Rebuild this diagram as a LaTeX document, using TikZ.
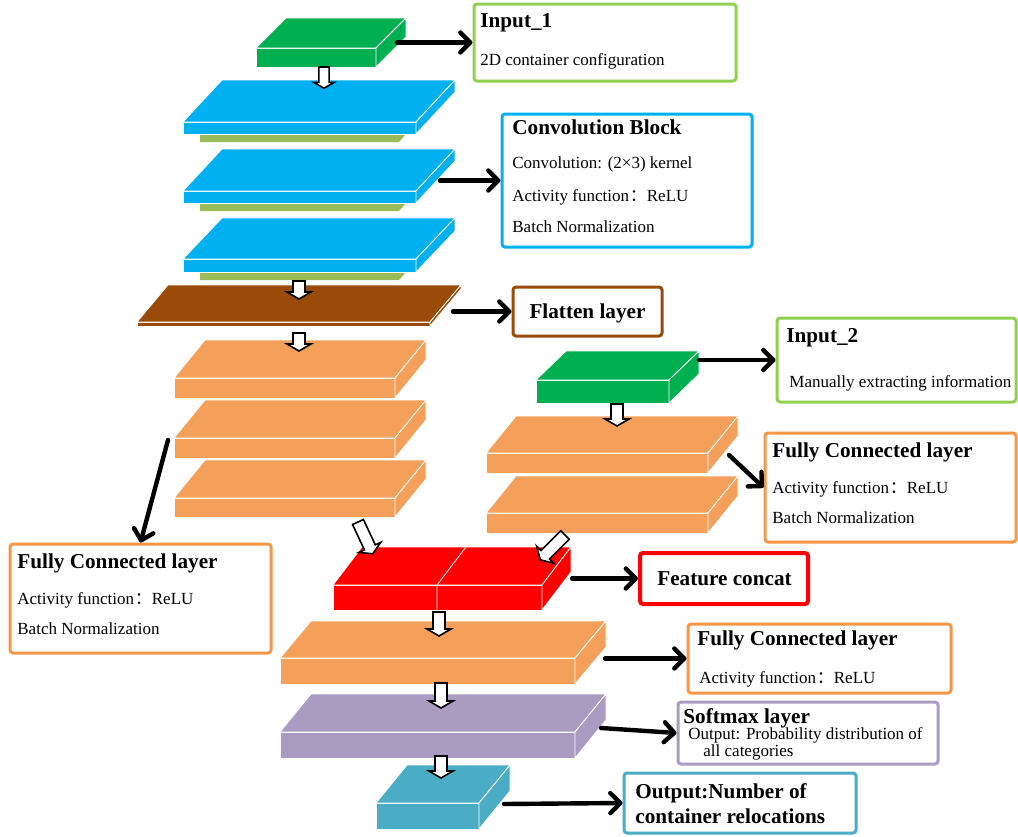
\documentclass[tikz,border=0pt]{standalone}
\usepackage{fontspec}
\setmainfont{Liberation Serif}
\newfontfamily\cjk[Script=CJK,Language=Chinese Simplified]{Noto Sans CJK SC}
\usetikzlibrary{arrows.meta}
\definecolor{cgreen}{HTML}{00B050}
\definecolor{cblue}{HTML}{00B0F0}
\definecolor{cstrip}{HTML}{9BBB59}
\definecolor{cbrown}{HTML}{9A4A09}
\definecolor{corange}{HTML}{F5A05A}
\definecolor{cred}{HTML}{FF0000}
\definecolor{cpurple}{HTML}{A99BC1}
\definecolor{cteal}{HTML}{4BACC6}
\definecolor{bgreen}{HTML}{92D050}
\definecolor{borange}{HTML}{F79646}
\newcommand\cuboid[7]{%
  \filldraw[face,fill=#7] (#1,#2) rectangle (#3,#4);
  \filldraw[face,fill=#7] (#1,#2) -- ({#1+#5},{#2-#6}) -- ({#3+#5},{#2-#6}) -- (#3,#2) -- cycle;
  \filldraw[face,fill=#7] (#3,#2) -- ({#3+#5},{#2-#6}) -- ({#3+#5},{#4-#6}) -- (#3,#4) -- cycle;
}
\newcommand\harrow[5][]{%
  \begin{scope}[shift={(#2,#3)},rotate=#4,#1]
  \filldraw[hollow] (-6,0) -- (6,0) -- (6,{#5-7}) -- (12,{#5-7}) -- (0,#5) -- (-12,{#5-7}) -- (-6,{#5-7}) -- cycle;
  \end{scope}}
\newcommand\colonfw{\kern0.05em{\cjk ：}}
\begin{document}
\begin{tikzpicture}[x=0.5pt,y=-0.5pt,
  face/.style={draw=white,line width=0.4pt,line join=round},
  hollow/.style={fill=white,draw=black,line width=0.8pt,line join=miter},
  conn/.style={line width=2.2pt,line cap=round,-{Straight Barb[length=5pt,width=10pt,line cap=round,line join=round]}},
  tbox/.style={draw=#1,line width=1.5pt,rounded corners=1.5pt,fill=white,inner sep=0pt},
  ttl/.style={anchor=base west,inner sep=0pt,font=\fontsize{10.6}{12}\selectfont\bfseries},
  body/.style={anchor=base west,inner sep=0pt,font=\fontsize{8.5}{10}\selectfont}]
\useasboundingbox (0,0) rectangle (1018,836);
\fill[white] (0,0) rectangle (1018,836);

% ---- cuboids ----
\cuboid{256}{48}{376}{67}{30}{30}{cgreen}
\fill[cstrip] (200,134) -- (406,134) -- (399,142) -- (200,142) -- cycle;
\cuboid{183}{122}{416}{134}{39}{42}{cblue}
\fill[cstrip] (200,203) -- (406,203) -- (399,211) -- (200,211) -- cycle;
\cuboid{183}{191}{416}{203}{39}{42}{cblue}
\fill[cstrip] (200,272) -- (406,272) -- (399,280) -- (200,280) -- cycle;
\cuboid{183}{259}{416}{272}{39}{41}{cblue}
\cuboid{137}{322}{430}{326}{31}{37}{cbrown}
\cuboid{174}{378}{395}{398}{31}{38}{corange}
\cuboid{174}{438}{395}{458}{31}{38}{corange}
\cuboid{174}{498}{395}{517}{31}{38}{corange}
\cuboid{536}{380}{669}{403}{30}{29}{cgreen}
\cuboid{486}{453}{708}{473}{30}{37}{corange}
\cuboid{486}{513}{708}{533}{30}{37}{corange}
\cuboid{333}{585}{542}{610}{29}{38}{cred}
\draw[white,line width=0.4pt] (437,610) -- (437,585) -- (466,547);
\cuboid{280}{658}{575}{684}{31}{37}{corange}
\cuboid{280}{732}{575}{758}{31}{38}{cpurple}
\cuboid{376}{803}{479}{829}{31}{38}{cteal}

% ---- hollow flow arrows ----
\harrow[scale=0.85]{324}{67}{0}{25}
\harrow{299}{281}{0}{18}
\harrow{299}{333}{0}{18}
\harrow{617}{404}{0}{22}
\harrow{358}{522}{25}{35}
\harrow{565}{535}{-45}{35}
\harrow{439}{612}{0}{24}
\harrow{441}{683}{0}{25}
\harrow{441}{756}{0}{22}

% ---- text boxes ----
\node[tbox=bgreen,minimum width=131pt,minimum height=38.5pt] (inp1box) at (605,42.5) {};
\node[ttl] (inp1t) at (480,27) {Input\_1};
\node[body] (inp1b) at (480,65) {2D container configuration};

\node[tbox=cblue,minimum width=125pt,minimum height=66.5pt] (convbox) at (627,180.5) {};
\node[ttl] (convt) at (512,134) {Convolution Block};
\node[body] (convb1) at (512,168) {Convolution: (2×3) kernel};
\node[body] (convb2) at (512,201) {Activity function\colonfw ReLU};
\node[body] (convb3) at (512,232) {Batch Normalization};

\node[tbox=cbrown,minimum width=74.5pt,minimum height=24.5pt] (flatbox) at (587.5,311.5) {};
\node[ttl,anchor=base] (flatt) at (587.5,318) {Flatten layer};

\node[tbox=bgreen,minimum width=119.5pt,minimum height=42pt] (inp2box) at (896.5,360) {};
\node[ttl] (inp2t) at (786,342) {Input\_2};
\node[body] (inp2b) at (789,387) {Manually extracting information};

\node[tbox=borange,minimum width=125.5pt,minimum height=54.5pt] (rfcbox) at (890.5,487.5) {};
\node[ttl] (rfct) at (772,457) {Fully Connected layer};
\node[body] (rfcb1) at (772,493) {Activity function\colonfw ReLU};
\node[body] (rfcb2) at (772,523) {Batch Normalization};

\node[tbox=borange,minimum width=130.5pt,minimum height=54.5pt] (lfcbox) at (140.5,598.5) {};
\node[ttl] (lfct) at (17,568) {Fully Connected layer};
\node[body] (lfcb1) at (17,604) {Activity function\colonfw ReLU};
\node[body] (lfcb2) at (17,634) {Batch Normalization};

\node[tbox=cred,line width=2pt,minimum width=84pt,minimum height=25.5pt] (catbox) at (724,578.5) {};
\node[ttl,anchor=base] (catt) at (724.5,585) {Feature concat};

\node[tbox=borange,minimum width=131.5pt,minimum height=34.5pt] (fc3box) at (819.5,658.5) {};
\node[ttl] (fc3t) at (697,645) {Fully Connected layer};
\node[body] (fc3b) at (699,683) {Activity function\colonfw ReLU};

\node[tbox=cpurple,minimum width=130pt,minimum height=31pt] (smbox) at (808,733) {};
\node[ttl] (smt) at (683,723) {Softmax layer};
\node[body] (smb1) at (688,739) {Output: Probability distribution of};
\node[body] (smb2) at (703,756) {all categories};

\node[tbox=cteal,minimum width=116pt,minimum height=30pt] (outbox) at (740,803) {};
\node[ttl] (outt1) at (635,798) {Output:Number of};
\node[ttl] (outt2) at (635,823) {container relocations};

% ---- connectors ----
\coordinate (s1) at (397,42.5);
\coordinate (s2) at (440,180.5);
\coordinate (s3) at (453,311.5);
\coordinate (s4) at (699,360);
\coordinate (s5) at (729,455);
\coordinate (s6) at (168,440);
\coordinate (s7) at (572,578.5);
\coordinate (s8) at (605,658.5);
\coordinate (s9) at (601,728);
\coordinate (s10) at (504,804);
\draw[conn] (s1) -- (inp1box.west);
\draw[conn] (s2) -- (convbox.west);
\draw[conn] (s3) -- (flatbox.west);
\draw[conn] (s4) -- (inp2box.west);
\draw[conn] (s5) -- (rfcbox.west);
\draw[conn] (s6) -- (lfcbox.north);
\draw[conn] (s7) -- (catbox.west);
\draw[conn] (s8) -- (fc3box.west);
\draw[conn] (s9) -- (smbox.west);
\draw[conn] (s10) -- (outbox.west);
\end{tikzpicture}
\end{document}
